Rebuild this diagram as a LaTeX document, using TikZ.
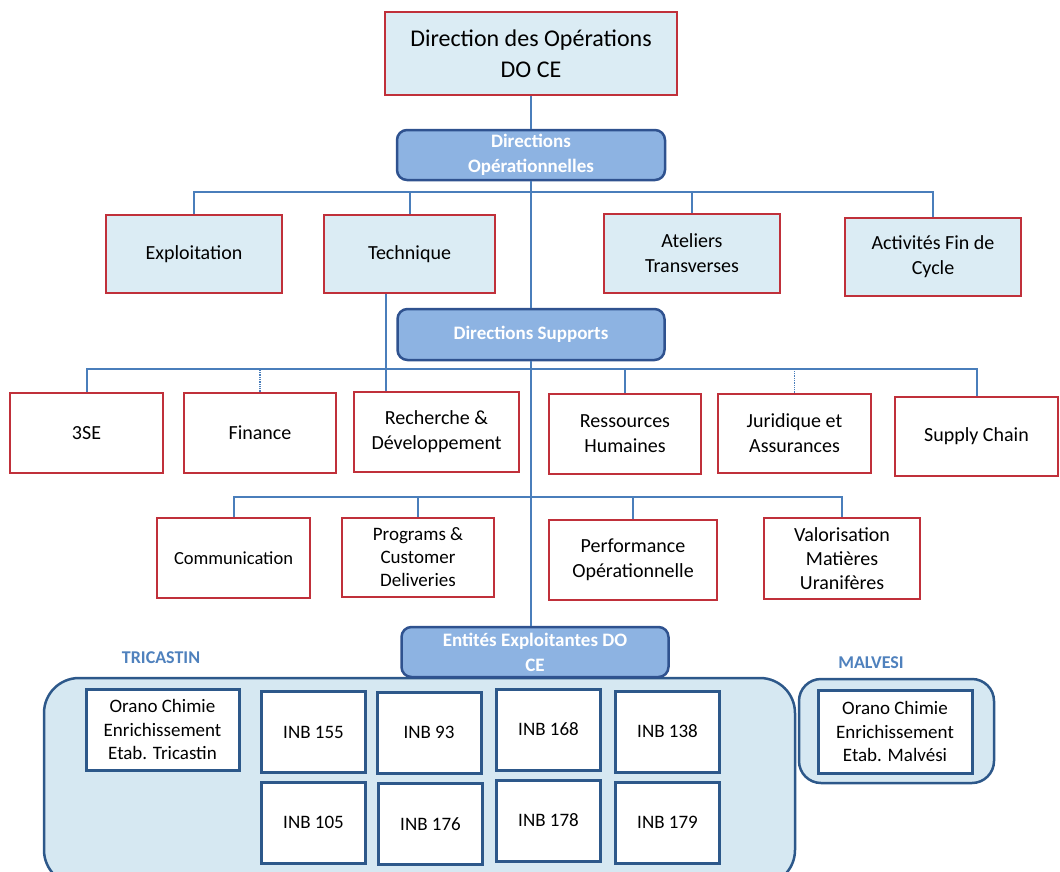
\documentclass[tikz,border=0pt]{standalone}
\usepackage{fontspec}
\setmainfont{Carlito}
\usetikzlibrary{calc}
\definecolor{redline}{RGB}{192,48,58}
\definecolor{lightfill}{RGB}{219,236,244}
\definecolor{bluefill}{RGB}{141,179,226}
\definecolor{blueline}{RGB}{47,82,143}
\definecolor{linkblue}{RGB}{74,126,187}
\definecolor{sitefill}{RGB}{214,232,242}
\definecolor{siteline}{RGB}{45,88,138}
\definecolor{labelblue}{RGB}{79,129,189}

\begin{document}
\begin{tikzpicture}[x=1pt, y=-1pt,
    redbox/.style={draw=redline, line width=2.5pt, fill=white, align=center, inner sep=2pt, font=\fontsize{20}{25}\selectfont},
    topbox/.style={redbox, fill=lightfill},
    bluebox/.style={draw=blueline, line width=2.5pt, fill=bluefill, rounded corners=10pt, text=white, align=center, inner sep=1pt, font=\bfseries\fontsize{19}{25}\selectfont},
    site/.style={draw=siteline, line width=2.5pt, fill=sitefill},
    unit/.style={draw=siteline, line width=3pt, fill=white, align=center, inner sep=2pt, font=\fontsize{19}{23.5}\selectfont},
    link/.style={draw=linkblue, line width=2pt},
    sitelabel/.style={text=labelblue, font=\bfseries\fontsize{18}{20}\selectfont}]
      \useasboundingbox (0,0) rectangle (1060,871);
      \clip (0,0) rectangle (1060,871);

      \node[topbox, minimum width=292, minimum height=83, font=\fontsize{24}{31}\selectfont] (doce) at (531,53.5) {Direction des Opérations\\DO CE};
      \node[bluebox, minimum width=268, minimum height=50] (dirop) at (531,155) {Directions\\Opérationnelles};

      \node[topbox, minimum width=176, minimum height=78] (expl) at (194,254) {Exploitation};
      \node[topbox, minimum width=171, minimum height=78] (tech) at (409.5,254) {Technique};
      \node[topbox, minimum width=176, minimum height=79] (atel) at (692,253.5) {Ateliers\\Transverses};
      \node[topbox, minimum width=176, minimum height=78] (actfc) at (933,257) {Activités Fin de\\Cycle};

      \node[bluebox, minimum width=267, minimum height=51] (dirsup) at (531,334.5) {Directions Supports};

      \node[redbox, minimum width=153, minimum height=80] (sse) at (86.5,433) {3SE};
      \node[redbox, minimum width=152, minimum height=80] (fin) at (260,433) {Finance};
      \node[redbox, minimum width=165, minimum height=80] (rd) at (436.5,432) {Recherche \&\\Développement};
      \node[redbox, minimum width=152, minimum height=80] (rh) at (625,434) {Ressources\\Humaines};
      \node[redbox, minimum width=153, minimum height=79] (jur) at (794.5,433.5) {Juridique et\\Assurances};
      \node[redbox, minimum width=163, minimum height=79] (supc) at (976.5,436.5) {Supply Chain};

      \node[redbox, minimum width=153, minimum height=80, font=\fontsize{18.5}{22}\selectfont] (comm) at (233.5,558) {Communication};
      \node[redbox, minimum width=152, minimum height=79, font=\fontsize{19}{23}\selectfont] (prog) at (418,557.5) {Programs \&\\Customer\\Deliveries};
      \node[redbox, minimum width=168, minimum height=80] (perf) at (633,560) {Performance\\Opérationnelle};
      \node[redbox, minimum width=156, minimum height=81, font=\fontsize{20}{24}\selectfont] (valo) at (842,558.5) {Valorisation\\Matières\\Uranifères};

      \node[site, minimum width=751, minimum height=207, rounded corners=35pt] (tric) at (419.5,781.5) {};
      \node[site, minimum width=195, minimum height=104, rounded corners=22pt] (malv) at (896.5,731) {};
      \node[bluebox, minimum width=267, minimum height=50] (ent) at (535,652) {Entités Exploitantes DO\\CE};
      \node[sitelabel] (tricl) at (161,658) {TRICASTIN};
      \node[sitelabel] (malvl) at (871,663) {MALVESI};

      \node[unit, minimum width=153, minimum height=81] (octri) at (162.5,729.5) {Orano Chimie\\Enrichissement\\Etab. Tricastin};
      \foreach \n/\x/\y in {155/313.5/732, 93/429/732.5, 168/548.5/729.5, 138/667.5/731.5,
                            105/313.5/822.5, 176/430.5/824, 178/548.5/820.5, 179/667.5/822.5}
        \node[unit, minimum width=104, minimum height=81] (inb\n) at (\x,\y) {INB \n};
      \node[unit, minimum width=154, minimum height=83] (ocmal) at (895,731.5) {Orano Chimie\\Enrichissement\\Etab. Malvési};

      \coordinate (bus1) at (531,192);
      \coordinate (bus2) at (531,369);
      \coordinate (bus3) at (531,497);
      \coordinate (rdlink) at (386,0);

      \draw[link] (doce) -- (dirop);
      \draw[link] (dirop) -- (dirsup);
      \draw[link] (dirsup.south) -- (dirsup.south |- ent.north);

      \draw[link] (expl.north) -- (expl.north |- bus1) -- (actfc.north |- bus1) -- (actfc.north);
      \draw[link] (tech.north) -- (tech.north |- bus1);
      \draw[link] (atel.north) -- (atel.north |- bus1);
      \draw[link] (tech.south -| rdlink) -- (rd.north -| rdlink);

      \draw[link] (sse.north) -- (sse.north |- bus2) -- (supc.north |- bus2) -- (supc.north);
      \draw[link] (rh.north) -- (rh.north |- bus2);
      \draw[link, line width=1.3pt, densely dotted] (fin.north) -- (fin.north |- bus2);
      \draw[link, line width=1.3pt, densely dotted] (jur.north) -- (jur.north |- bus2);

      \draw[link] (comm.north) -- (comm.north |- bus3) -- (valo.north |- bus3) -- (valo.north);
      \draw[link] (prog.north) -- (prog.north |- bus3);
      \draw[link] (perf.north) -- (perf.north |- bus3);
\end{tikzpicture}
\end{document}
